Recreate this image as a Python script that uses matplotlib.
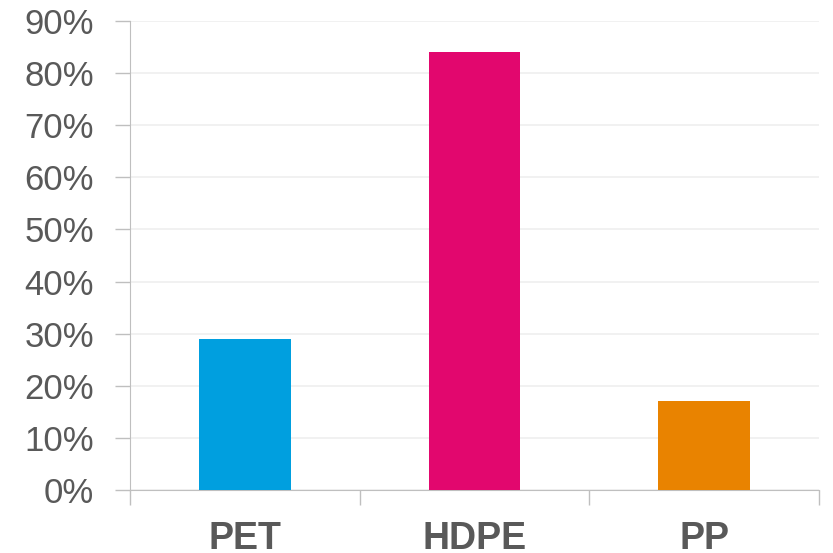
import matplotlib
matplotlib.use("Agg")
import matplotlib.pyplot as plt
from matplotlib.ticker import FuncFormatter

# share of material per polymer type
materials = ["PET", "HDPE", "PP"]
shares = [0.29, 0.84, 0.17]
bar_colors = ["#009FDF", "#E2076E", "#E98300"]

plt.rcParams['font.family'] = ['Liberation Sans', 'DejaVu Sans']

fig = plt.figure(figsize=(8.33, 5.53), dpi=100)
ax = fig.add_axes([130/833, 63/553, 689/833, 469/553])

x = range(len(materials))
ax.bar(x, shares, width=0.4, color=bar_colors, zorder=3)

ax.set_xlim(-0.5, len(materials) - 0.5)
ax.set_ylim(0, 0.9)
ax.set_yticks([i / 10 for i in range(10)])
ax.yaxis.set_major_formatter(FuncFormatter(lambda v, p: "%d%%" % round(v * 100)))
ax.grid(axis="y", color="#F0F0F0", linewidth=1.3, zorder=0)

# category separators as minor ticks on the x axis
ax.set_xticks(list(x))
ax.set_xticklabels(materials, fontsize=27, fontweight="bold", color="#595959")
ax.set_xticks([-0.5, 0.5, 1.5, 2.5], minor=True)
ax.tick_params(axis="x", which="major", length=0, pad=22)
ax.tick_params(axis="x", which="minor", length=11, width=1, color="#BFBFBF")
ax.tick_params(axis="y", length=11, width=1, color="#BFBFBF", labelsize=25,
               labelcolor="#595959", pad=15)

for side in ["top", "right"]:
    ax.spines[side].set_visible(False)
ax.spines["left"].set_color("#BFBFBF")
ax.spines["bottom"].set_color("#BFBFBF")

fig.savefig("out.png", dpi=100)
